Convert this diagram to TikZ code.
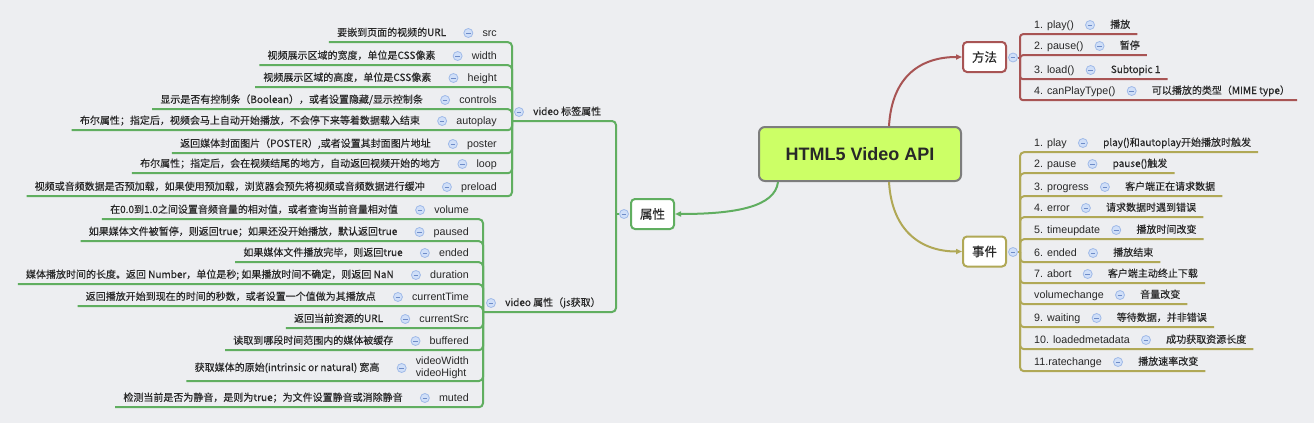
\documentclass[tikz,border=0pt]{standalone}
\usepackage{fontspec}
\setmainfont{Liberation Sans}
\newfontfamily\cjk[FakeBold=0.3]{Noto Sans CJK SC}
\usetikzlibrary{arrows.meta}
\definecolor{bg}{RGB}{237,238,241}
\definecolor{gr}{RGB}{96,174,96}
\definecolor{rd}{RGB}{168,84,84}
\definecolor{ol}{RGB}{176,168,86}
\definecolor{txt}{RGB}{40,40,40}
\definecolor{dotf}{RGB}{208,223,248}
\definecolor{dotb}{RGB}{160,186,232}
\definecolor{dotm}{RGB}{110,140,200}
\definecolor{corefill}{RGB}{204,255,102}
\definecolor{coreb}{RGB}{125,125,125}
\tikzset{
 lat/.style={font=\fontsize{10.7}{13}\selectfont, text=txt, inner xsep=0pt, inner ysep=3.5pt, text height=8.5pt, text depth=2.5pt},
 cn/.style={lat, font=\cjk\fontsize{10}{13}\selectfont},
 dot/.style={circle, draw=dotb, fill=dotf, line width=0.8pt, minimum size=9pt, inner sep=0pt,
   path picture={\draw[dotm, line width=0.9pt] ([xshift=-2.3pt]path picture bounding box.center) -- ([xshift=2.3pt]path picture bounding box.center);}},
 gline/.style={draw=gr, line width=2pt, rounded corners=4pt},
 rline/.style={draw=rd, line width=2pt, rounded corners=3pt},
 oline/.style={draw=ol, line width=2pt, rounded corners=4pt},
 topicbox/.style={fill=white, line width=2pt, rounded corners=4pt, minimum width=43pt, minimum height=30pt, inner sep=0pt, font=\cjk\fontsize{12.5}{14}\selectfont, text=txt},
 core/.style={draw=coreb, fill=corefill, line width=2pt, rounded corners=6pt, minimum width=202pt, minimum height=54pt, font=\bfseries\fontsize{18}{20}\selectfont, text=txt},
 tip/.style={-{Triangle[length=6pt,width=5pt]}}
}
\newcommand\RRow[6]{%
 \node[lat, anchor=west] (#1) at (1034,#2-9) {#3};
 \node[dot] (#1c) at ([xshift=16pt]#1.east) {};
 \node[cn, anchor=west] (#1d) at ([xshift=20pt]#1c.center) {#4};
 \draw[#6] (#5) |- (#1.south west) -- ([xshift=7pt]#1d.south east);
}
\newcommand\LRow[7]{%
 \node[lat, anchor=east] (#1) at (#2,#3-9) {#4};
 \node[dot] (#1c) at ([xshift=-14pt]#1.west) {};
 \node[cn, anchor=east] (#1d) at ([xshift=-22pt]#1c.center) {#5};
 \draw[#7] (#6) |- (#1.south east) -- ([xshift=-8pt]#1d.south west);
}
\begin{document}
\begin{tikzpicture}[x=1pt,y=-1pt]
\useasboundingbox (0,0) rectangle (1314,423);
\fill[bg] (0,0) rectangle (1314,423);

% central and main topics
\node[core] (core) at (860,154) {HTML5 Video API};
\node[topicbox, draw=gr] (attr) at (652.5,214) {属性};
\node[topicbox, draw=rd] (meth) at (984.5,57) {方法};
\node[topicbox, draw=ol] (evt) at (984.5,251.5) {事件};

\draw[gr, line width=2pt, tip] ([xshift=-82pt]core.south) .. controls (775,207) and (735,214) .. (attr.east);
\draw[rd, line width=2pt, tip] ([xshift=29pt]core.north) .. controls (892,75) and (922,57) .. (meth.west);
\draw[ol, line width=2pt, tip] ([xshift=29pt]core.south) .. controls (892,232) and (922,251.5) .. (evt.west);

% forks
\coordinate (sfork) at (616,214);
\coordinate (vtfork) at (512,121);
\coordinate (vjfork) at (483,312);
\coordinate (mfork) at (1020,57.5);
\coordinate (efork) at (1020,252);

% ---------- 属性 ----------
\draw[gline] (sfork) |- (vtfork);
\draw[gline] (sfork) |- (vjfork);
\node[dot] (attrc) at (624,214) {};
\draw[gline] (attrc.west) -- (sfork);

\node[cn, anchor=west] (vt) at (533,112) {video 标签属性};
\node[dot] (vtc) at ([xshift=-14pt]vt.west) {};
\node[cn, anchor=west] (vj) at (505,303) {video 属性（js获取）};
\node[dot] (vjc) at ([xshift=-14pt]vj.west) {};

\LRow{Ta}{497}{42}{src}{要嵌到页面的视频的URL}{vtfork}{gline}
\LRow{Tb}{497}{65}{width}{视频展示区域的宽度，单位是CSS像素}{vtfork}{gline}
\LRow{Tc}{497}{87}{height}{视频展示区域的高度，单位是CSS像素}{vtfork}{gline}
\LRow{Td}{497}{109}{controls}{显示是否有控制条（Boolean），或者设置隐藏/显示控制条}{vtfork}{gline}
\LRow{Te}{497}{130}{autoplay}{布尔属性；指定后，视频会马上自动开始播放，不会停下来等着数据载入结束}{vtfork}{gline}
\LRow{Tf}{497}{153}{poster}{返回媒体封面图片（POSTER）,或者设置其封面图片地址}{vtfork}{gline}
\LRow{Tg}{497}{173}{loop}{布尔属性；指定后，会在视频结尾的地方，自动返回视频开始的地方}{vtfork}{gline}
\LRow{Th}{497}{196}{preload}{视频或音频数据是否预加载，如果使用预加载，浏览器会预先将视频或音频数据进行缓冲}{vtfork}{gline}

\LRow{Ja}{469}{219}{volume}{在0.0到1.0之间设置音频音量的相对值，或者查询当前音量相对值}{vjfork}{gline}
\LRow{Jb}{469}{241}{paused}{如果媒体文件被暂停，则返回true；如果还没开始播放，默认返回true}{vjfork}{gline}
\LRow{Jc}{469}{262}{ended}{如果媒体文件播放完毕，则返回true}{vjfork}{gline}
\LRow{Jd}{469}{284}{duration}{媒体播放时间的长度。返回 Number，单位是秒; 如果播放时间不确定，则返回 NaN}{vjfork}{gline}
\LRow{Je}{469}{306}{currentTime}{返回播放开始到现在的时间的秒数，或者设置一个值做为其播放点}{vjfork}{gline}
\LRow{Jf}{469}{328}{currentSrc}{返回当前资源的URL}{vjfork}{gline}
\LRow{Jg}{469}{350}{buffered}{读取到哪段时间范围内的媒体被缓存}{vjfork}{gline}
\node[font=\fontsize{10.7}{12}\selectfont, text=txt, inner sep=0pt, align=left, anchor=east] (Jh) at (469,368) {videoWidth\\videoHight};
\node[dot] (Jhc) at ([xshift=-14pt]Jh.west) {};
\node[cn, anchor=east] (Jhd) at ([xshift=-22pt]Jhc.center) {获取媒体的原始(intrinsic or natural) 宽高};
\coordinate (Jhu) at (469,381);
\draw[gline] (vjfork) |- (Jhu) -- ([xshift=-8pt]Jhd.west |- Jhu);
\LRow{Ji}{469}{407}{muted}{检测当前是否为静音，是则为true；为文件设置静音或消除静音}{vjfork}{gline}

% ---------- 方法 ----------
\node[dot] (methc) at (1013,57.5) {};
\draw[rline] (methc.east) -- (mfork);
\RRow{M1}{34}{1. play()}{播放}{mfork}{rline}
\RRow{M2}{55}{2. pause()}{暂停}{mfork}{rline}
\RRow{M3}{79}{3. load()}{Subtopic 1}{mfork}{rline}
\RRow{M4}{100}{4. canPlayType()}{可以播放的类型（MIME type）}{mfork}{rline}

% ---------- 事件 ----------
\node[dot] (evtc) at (1013,252) {};
\draw[oline] (evtc.east) -- (efork);
\RRow{E1}{152}{1. play}{play()和autoplay开始播放时触发}{efork}{oline}
\RRow{E2}{173}{2. pause}{pause()触发}{efork}{oline}
\RRow{E3}{196}{3. progress}{客户端正在请求数据}{efork}{oline}
\RRow{E4}{217}{4. error}{请求数据时遇到错误}{efork}{oline}
\RRow{E5}{239}{5. timeupdate}{播放时间改变}{efork}{oline}
\RRow{E6}{262}{6. ended}{播放结束}{efork}{oline}
\RRow{E7}{283}{7. abort}{客户端主动终止下载}{efork}{oline}
\RRow{E8}{304}{volumechange}{音量改变}{efork}{oline}
\RRow{E9}{327}{9. waiting}{等待数据，并非错误}{efork}{oline}
\RRow{E10}{349}{10. loadedmetadata}{成功获取资源长度}{efork}{oline}
\RRow{E11}{371}{11.ratechange}{播放速率改变}{efork}{oline}
\end{tikzpicture}
\end{document}
